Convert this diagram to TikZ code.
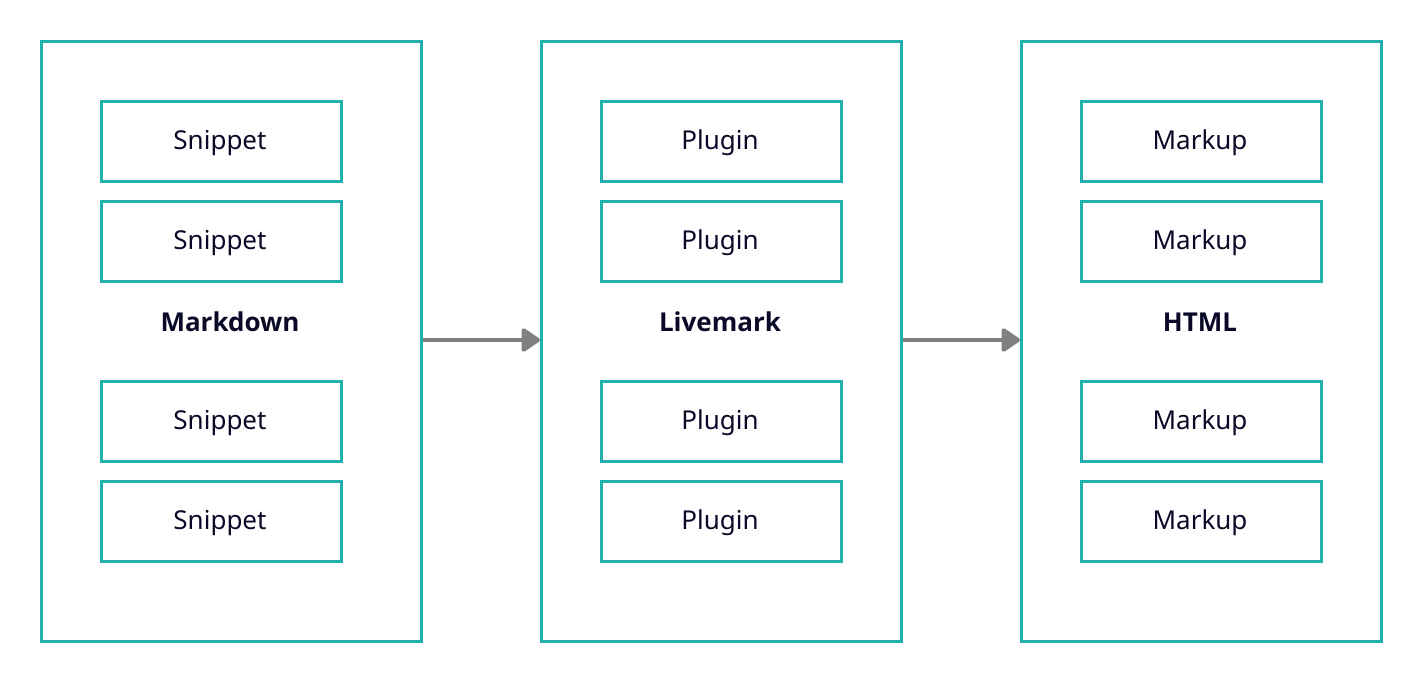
\documentclass[tikz,border=0pt]{standalone}
\usepackage{fontspec}
\setmainfont{Noto Sans}
\newfontfamily\titlefont{Open Sans}
\usetikzlibrary{arrows.meta}
\definecolor{teal}{HTML}{20B2AA}
\definecolor{ink}{HTML}{0A0A28}
\definecolor{arrowgray}{HTML}{808080}
\begin{document}
\begin{tikzpicture}[x=1pt,y=-1pt,
  outerbox/.style={draw=teal,line width=3pt,fill=none},
  innerbox/.style={draw=teal,line width=3pt,minimum width=240pt,minimum height=80pt,inner sep=0pt,anchor=north west},
  innertext/.style={text=ink,font=\fontsize{26}{30}\selectfont,inner sep=0pt},
  title/.style={text=ink,font=\fontsize{26}{30}\selectfont\titlefont\bfseries,inner sep=0pt},
  flow/.style={draw=arrowgray,line width=4pt,-{Triangle[round,length=20pt,width=26pt]}}]
\useasboundingbox (0,0) rectangle (1420,680);
% outer containers
\node[outerbox,minimum width=380pt,minimum height=600pt,anchor=north west,inner sep=0pt] (md) at (40,40) {};
\node[outerbox,minimum width=360pt,minimum height=600pt,anchor=north west,inner sep=0pt] (lm) at (540,40) {};
\node[outerbox,minimum width=360pt,minimum height=600pt,anchor=north west,inner sep=0pt] (ht) at (1020,40) {};
% inner boxes
\foreach \y [count=\i] in {100,200,380,480}{
  \node[innerbox] (s\i) at (100,\y) {};
  \node[innertext,anchor=base] (st\i) at (220,\y+49) {Snippet};
  \node[innerbox] (p\i) at (600,\y) {};
  \node[innertext,anchor=base] (pt\i) at (720,\y+49) {Plugin};
  \node[innerbox] (m\i) at (1080,\y) {};
  \node[innertext,anchor=base] (mt\i) at (1200,\y+49) {Markup};
}
% titles
\node[title,anchor=base] (tmd) at (230,331) {Markdown};
\node[title,anchor=base] (tlm) at (720,331) {Livemark};
\node[title,anchor=base] (tht) at (1200,331) {HTML};
% arrows
\draw[flow] (md.east |- 0,340) -- (lm.west |- 0,340);
\draw[flow] (lm.east |- 0,340) -- (ht.west |- 0,340);
\end{tikzpicture}
\end{document}
